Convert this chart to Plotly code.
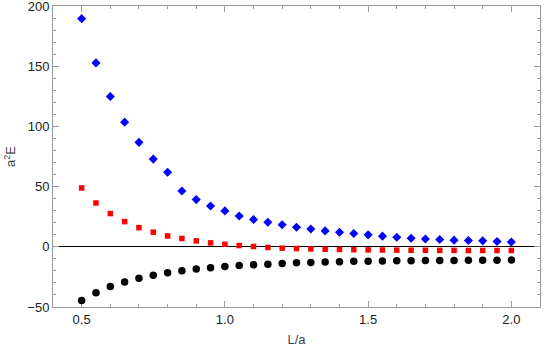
import plotly.graph_objects as go

x_vals = [round(0.5 + 0.05 * i, 2) for i in range(31)]

blue_vals = [189.8, 153.0, 125.0, 103.7, 86.9, 73.0, 62.0, 46.5, 39.3, 34.0,
             29.9, 25.7, 22.7, 20.5, 18.4, 16.3, 14.9, 13.3, 12.2, 11.1,
             10.0, 8.9, 8.0, 7.2, 6.6, 6.1, 5.6, 5.3, 5.0, 4.5, 4.1]
red_vals = [49.0, 36.5, 27.7, 21.0, 16.0, 12.2, 9.1, 7.0, 5.0, 3.3,
            2.2, 1.1, 0.3, -0.5, -1.1, -1.4, -1.7, -2.0, -2.2, -2.4,
            -2.5, -2.6, -2.7, -2.8, -2.8, -2.9, -2.9, -3.0, -3.0, -3.0, -3.0]
black_vals = [-44.5, -38.2, -32.9, -29.3, -26.0, -23.5, -21.6, -19.9, -18.5, -17.4,
              -16.3, -15.4, -14.9, -14.4, -13.8, -13.3, -13.0, -12.5, -12.3, -12.0,
              -11.9, -11.8, -11.6, -11.5, -11.4, -11.3, -11.3, -11.2, -11.2, -11.1, -10.9]

x_ticks = [0.5, 1.0, 1.5, 2.0]
y_ticks = [-50, 0, 50, 100, 150, 200]

FONT = "Liberation Sans, Arial, sans-serif"

fig = go.Figure()
fig.add_trace(go.Scatter(x=x_vals, y=blue_vals, mode="markers",
                         marker=dict(symbol="diamond", size=7, color="#0000FF")))
fig.add_trace(go.Scatter(x=x_vals, y=red_vals, mode="markers",
                         marker=dict(symbol="square", size=5.5, color="#FF0000")))
fig.add_trace(go.Scatter(x=x_vals, y=black_vals, mode="markers",
                         marker=dict(symbol="circle", size=7.5, color="#000000")))

frame = "#999999"
axis_common = dict(
    showgrid=False,
    showline=True, linecolor=frame, linewidth=1,
    mirror="allticks",
    ticks="inside", ticklen=6, tickcolor=frame, tickwidth=1,
    tickfont=dict(family=FONT, size=13, color="#222222"),
    ticklabeloverflow="allow",
    automargin=False,
    layer="below traces",
)

fig.update_xaxes(range=[0.4, 2.1], tickvals=x_ticks, ticktext=[f"{v:.1f}" for v in x_ticks],
                 minor=dict(dtick=0.1, tick0=0, ticks="inside", ticklen=3, tickcolor=frame),
                 zeroline=False,
                 title=dict(text="L/a", font=dict(family=FONT, size=13, color="#444444"), standoff=9),
                 **axis_common)
fig.update_yaxes(range=[-50, 200.3], tickvals=y_ticks,
                 minor=dict(dtick=10, tick0=0, ticks="inside", ticklen=3, tickcolor=frame),
                 zeroline=True, zerolinecolor="#000000", zerolinewidth=1,
                 title=dict(text="a<sup>2</sup>E", font=dict(family=FONT, size=13, color="#444444"), standoff=8),
                 **axis_common)

fig.update_layout(
    width=545, height=352,
    margin=dict(l=53, r=5, t=6, b=45),
    paper_bgcolor="white", plot_bgcolor="white",
    showlegend=False,
)

fig.write_html("out.html", config={"displayModeBar": False},
               post_script="document.body.style.margin='0';")
